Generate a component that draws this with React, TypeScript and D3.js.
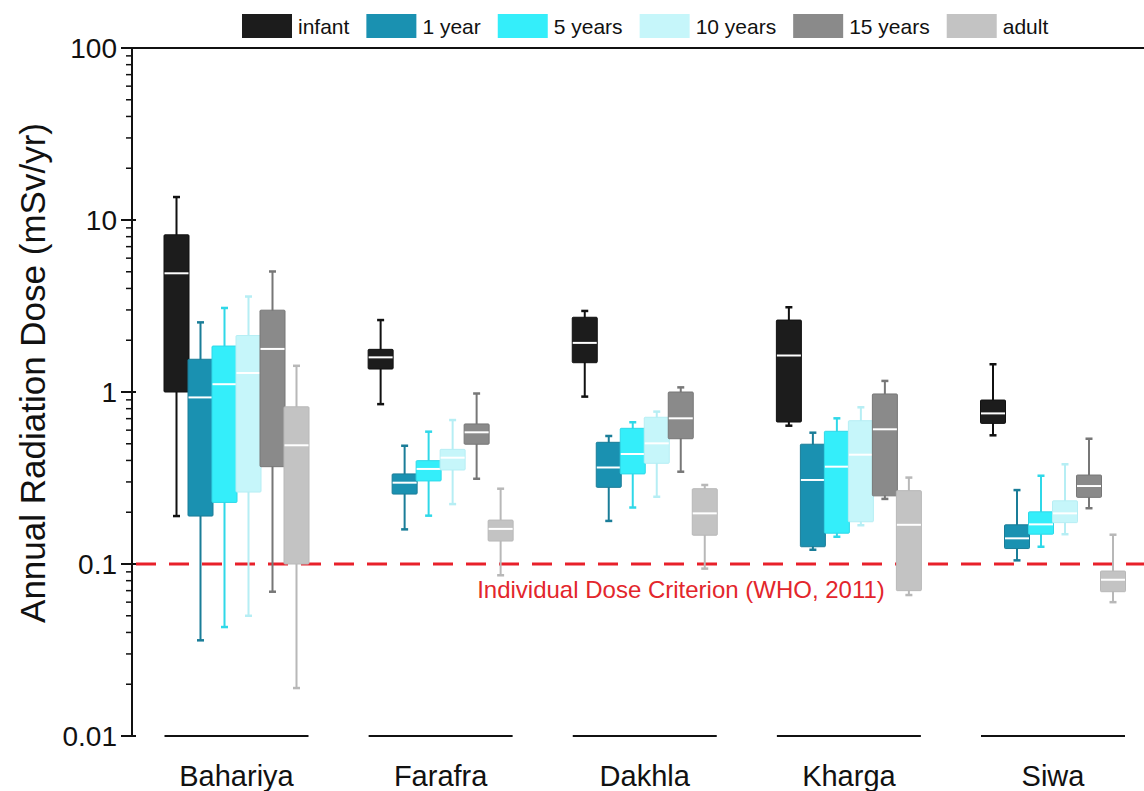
import React, { useEffect, useRef } from "react";
import * as d3 from "d3";

// each entry: [whisker low, Q1, median, Q3, whisker high] per site
const sites = ["Bahariya", "Farafra", "Dakhla", "Kharga", "Siwa"];
const ageGroups = ["infant", "1 year", "5 years", "10 years", "15 years", "adult"];

const infant = [
  [0.19, 1.0, 4.9, 8.2, 13.6],
  [0.85, 1.36, 1.59, 1.77, 2.62],
  [0.94, 1.48, 1.93, 2.72, 2.96],
  [0.637, 0.669, 1.63, 2.62, 3.11],
  [0.56, 0.657, 0.751, 0.898, 1.45],
];
const year1 = [
  [0.036, 0.19, 0.93, 1.55, 2.54],
  [0.159, 0.255, 0.297, 0.334, 0.487],
  [0.178, 0.279, 0.364, 0.51, 0.555],
  [0.121, 0.126, 0.308, 0.497, 0.58],
  [0.105, 0.123, 0.141, 0.169, 0.269],
];
const years5 = [
  [0.043, 0.228, 1.11, 1.85, 3.08],
  [0.191, 0.304, 0.357, 0.399, 0.588],
  [0.213, 0.334, 0.436, 0.615, 0.667],
  [0.144, 0.151, 0.368, 0.591, 0.703],
  [0.126, 0.149, 0.17, 0.201, 0.326],
];
const years10 = [
  [0.05, 0.262, 1.29, 2.13, 3.59],
  [0.223, 0.352, 0.415, 0.464, 0.687],
  [0.246, 0.385, 0.503, 0.713, 0.769],
  [0.168, 0.176, 0.432, 0.681, 0.815],
  [0.149, 0.174, 0.197, 0.233, 0.38],
];
const years15 = [
  [0.069, 0.368, 1.78, 2.99, 5.02],
  [0.313, 0.497, 0.583, 0.652, 0.98],
  [0.344, 0.535, 0.703, 1.0, 1.064],
  [0.239, 0.249, 0.607, 0.974, 1.16],
  [0.211, 0.244, 0.284, 0.329, 0.535],
];
const adult = [
  [0.019, 0.1, 0.49, 0.82, 1.42],
  [0.086, 0.136, 0.16, 0.18, 0.274],
  [0.094, 0.147, 0.197, 0.274, 0.288],
  [0.066, 0.07, 0.169, 0.267, 0.318],
  [0.06, 0.069, 0.081, 0.091, 0.148],
];
const seriesData = [infant, year1, years5, years10, years15, adult];

const yTicks = [0.01, 0.1, 1, 10, 100];
const yTickLabels = ["0.01", "0.1", "1", "10", "100"];
const criterion = 0.1;

const fills = ["#1c1c1c", "#1a91b1", "#34eefa", "#c6f6fa", "#8a8a8a", "#c3c3c3"];
const strokes = ["#111111", "#1a7d98", "#2fd8e8", "#b6eef4", "#777777", "#b8b8b8"];

const FONT = "'Liberation Sans', Arial, sans-serif";

export default function App() {
  const ref = useRef<SVGSVGElement>(null);

  useEffect(() => {
    const width = 1144;
    const height = 791;
    const axisX = 132;
    const top = 48;
    const bottom = 736;

    const svg = d3.select(ref.current).attr("width", width).attr("height", height);
    svg.selectAll("*").remove();

    const y = d3.scaleLog().domain([0.01, 100]).range([bottom, top]);
    const xSite = d3.scalePoint<string>().domain(sites).range([236.5, 1053]);
    const xAge = d3.scaleBand<string>().domain(ageGroups).range([-72, 72]);
    const boxW = xAge.bandwidth() + 1;

    // frame: top line and left axis
    svg.append("line")
      .attr("x1", axisX).attr("x2", width)
      .attr("y1", top).attr("y2", top)
      .attr("stroke", "#111").attr("stroke-width", 2);
    svg.append("line")
      .attr("x1", axisX).attr("x2", axisX)
      .attr("y1", top - 1).attr("y2", bottom + 1)
      .attr("stroke", "#111").attr("stroke-width", 2);

    // minor ticks
    const minor: number[] = [];
    for (let e = -2; e < 2; e++) {
      for (let m = 2; m <= 9; m++) minor.push(m * Math.pow(10, e));
    }
    svg.append("g").selectAll("line").data(minor).enter().append("line")
      .attr("x1", axisX - 6).attr("x2", axisX)
      .attr("y1", d => y(d)).attr("y2", d => y(d))
      .attr("stroke", "#111").attr("stroke-width", 1.5);

    // major ticks + labels
    svg.append("g").selectAll("line").data(yTicks).enter().append("line")
      .attr("x1", axisX - 11).attr("x2", axisX + 4)
      .attr("y1", d => y(d)).attr("y2", d => y(d))
      .attr("stroke", "#111").attr("stroke-width", 2);
    svg.append("g").selectAll("text").data(yTicks).enter().append("text")
      .attr("x", 117)
      .attr("y", d => y(d))
      .attr("dy", "0.36em")
      .attr("text-anchor", "end")
      .attr("font-family", FONT)
      .attr("font-size", 28)
      .attr("fill", "#111")
      .text((d, i) => yTickLabels[i]);

    // y-axis title
    svg.append("text")
      .attr("transform", "rotate(-90)")
      .attr("x", -373)
      .attr("y", 45)
      .attr("text-anchor", "middle")
      .attr("font-family", FONT)
      .attr("font-size", 35)
      .attr("fill", "#111")
      .text("Annual Radiation Dose (mSv/yr)");

    // criterion line
    svg.append("line")
      .attr("x1", axisX + 4).attr("x2", width)
      .attr("y1", y(criterion)).attr("y2", y(criterion))
      .attr("stroke", "#e8202a").attr("stroke-width", 3)
      .attr("stroke-dasharray", "20 13");
    svg.append("text")
      .attr("x", 681)
      .attr("y", 598)
      .attr("text-anchor", "middle")
      .attr("font-family", FONT)
      .attr("font-size", 24)
      .attr("fill", "#e3262c")
      .text("Individual Dose Criterion (WHO, 2011)");

    // group baselines and site labels
    const groups = svg.append("g").selectAll("g").data(sites).enter().append("g")
      .attr("transform", d => `translate(${xSite(d)},0)`);
    groups.append("line")
      .attr("x1", -72).attr("x2", 72)
      .attr("y1", bottom).attr("y2", bottom)
      .attr("stroke", "#111").attr("stroke-width", 2);
    groups.append("text")
      .attr("x", 0).attr("y", 786)
      .attr("text-anchor", "middle")
      .attr("font-family", FONT)
      .attr("font-size", 29)
      .attr("fill", "#111")
      .text(d => d);

    // boxes
    ageGroups.forEach((age, si) => {
      const g = svg.append("g");
      const rows = seriesData[si].map((v, gi) => ({ site: sites[gi], v }));
      const cx = (d: { site: string }) => (xSite(d.site) as number) + (xAge(age) as number) + xAge.bandwidth() / 2;

      g.selectAll(".whisker").data(rows).enter().append("line")
        .attr("x1", cx).attr("x2", cx)
        .attr("y1", d => y(d.v[0])).attr("y2", d => y(d.v[4]))
        .attr("stroke", strokes[si]).attr("stroke-width", 2);
      [0, 4].forEach(k => {
        g.selectAll(".cap" + k).data(rows).enter().append("line")
          .attr("x1", d => cx(d) - 3.5).attr("x2", d => cx(d) + 3.5)
          .attr("y1", d => y(d.v[k])).attr("y2", d => y(d.v[k]))
          .attr("stroke", strokes[si]).attr("stroke-width", 2.5);
      });
      g.selectAll("rect").data(rows).enter().append("rect")
        .attr("x", d => cx(d) - boxW / 2)
        .attr("y", d => y(d.v[3]))
        .attr("width", boxW)
        .attr("height", d => y(d.v[1]) - y(d.v[3]))
        .attr("rx", 1)
        .attr("fill", fills[si])
        .attr("stroke", strokes[si])
        .attr("stroke-width", 1);
      g.selectAll(".median").data(rows).enter().append("line")
        .attr("x1", d => cx(d) - boxW / 2 + 0.5).attr("x2", d => cx(d) + boxW / 2 - 0.5)
        .attr("y1", d => y(d.v[2])).attr("y2", d => y(d.v[2]))
        .attr("stroke", "#ffffff").attr("stroke-width", 2);
    });

    // legend
    const legend = svg.append("g");
    let lx = 242;
    ageGroups.forEach((age, i) => {
      legend.append("rect")
        .attr("x", lx).attr("y", 14)
        .attr("width", 50).attr("height", 24)
        .attr("fill", fills[i]);
      const t = legend.append("text")
        .attr("x", lx + 56).attr("y", 26)
        .attr("dy", "0.36em")
        .attr("font-family", FONT)
        .attr("font-size", 21)
        .attr("fill", "#111")
        .text(age);
      const w = (t.node() as SVGTextElement).getComputedTextLength();
      lx += 56 + w + 17;
    });
  }, []);

  return (
    <svg ref={ref} style={{ position: "absolute", left: 0, top: 0, background: "#fff" }} />
  );
}
